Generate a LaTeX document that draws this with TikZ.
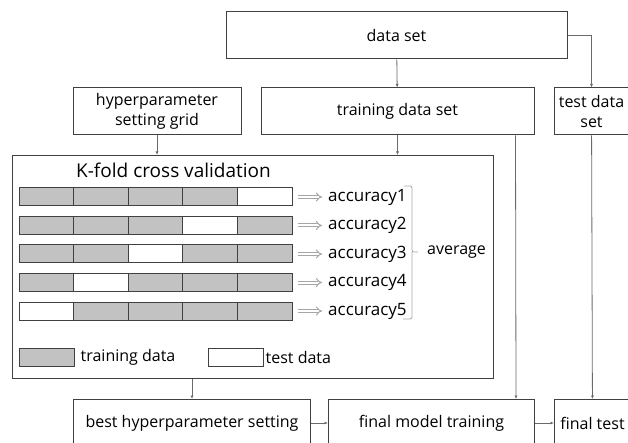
\documentclass[tikz,border=0pt]{standalone}
\usepackage{fontspec}
\setmainfont{Open Sans}
\usetikzlibrary{positioning, arrows.meta, calc}

\definecolor{boxline}{HTML}{404040}
\definecolor{wireline}{HTML}{6A6A6A}
\definecolor{foldgray}{HTML}{C2C2C2}
\definecolor{implgray}{HTML}{A6A6A6}

\begin{document}
\begin{tikzpicture}[x=1pt, y=-1pt,
  font=\fontsize{16}{20}\selectfont, >={Latex[length=3.5pt, width=3pt]},
  box/.style={draw=boxline, line width=1pt, inner sep=0pt, align=center, minimum height=47pt},
  wire/.style={draw=wireline, line width=0.8pt, ->},
  fold/.style={draw=boxline, line width=1pt, fill=foldgray, minimum width=54.6pt, minimum height=18pt, inner sep=0pt},
  tfold/.style={fold, fill=white},
  lbl/.style={inner sep=2pt},
  imp/.style={draw=implgray, double, double distance=2pt, line width=1pt, -{Implies}}]
\useasboundingbox (0,0) rectangle (628,443);

% data split
\node[box, minimum width=341pt] (data) at (396.5,35.5) {data set};
\node[box, minimum width=168pt] (hyper) at (157,111.5) {hyperparameter\\setting grid};
\node[box, minimum width=273pt, right=19pt of hyper] (train) {training data set};
\node[box, minimum width=75pt, right=19pt of train] (testset) {test data\\set};

% cross validation panel
\node[box, minimum width=481pt, minimum height=223pt, anchor=north west] (kfold) at (12,155) {};
\node[lbl, anchor=west, font=\fontsize{19}{22}\selectfont] (cvtitle) at (74,170) {K-fold cross validation};
\foreach \r in {1,...,5}{
  \pgfmathtruncatemacro\tk{6-\r}
  \foreach \k in {1,...,5}{
    \ifnum\k=\tk \def\sty{tfold}\else\def\sty{fold}\fi
    \node[\sty] (c\r\k) at ({19+54.6*(\k-0.5)}, {197+28.5*(\r-1)}) {};
  }
  \node[lbl, anchor=west, font=\fontsize{17}{20}\selectfont] (acc\r) at (326, {197+28.5*(\r-1)}) {accuracy\r};
  \draw[imp, shorten <=5pt, shorten >=4pt] (c\r5) -- (acc\r);
}
\draw[implgray, line width=0.8pt, rounded corners=2pt]
  (404,186) -- (412,186) -- (412,252) -- (418,252) (412,252) -- (412,319) -- (403,319);
\node[lbl, anchor=west] (avg) at (425,252) {average};

% legend
\node[fold, minimum width=55pt] (legtr) at (46.5,357) {};
\node[lbl, right=4pt of legtr] (legtrtxt) {training data};
\node[tfold, minimum width=55pt] (legte) at (235.5,357) {};
\node[lbl, right=0pt of legte] (legtetxt) {test data};

% final stage
\node[box, minimum width=237pt, anchor=north west] (best) at (73,399) {best hyperparameter setting};
\node[box, minimum width=206pt, right=17pt of best] (final) {final model training};
\node[box, minimum width=76pt, right=19pt of final] (ftest) {final test};

\draw[wire] (data) -- (train);
\draw[wire] (data.east) -| (testset.north);
\draw[wire] (hyper) -- (hyper |- kfold.north);
\draw[wire] (train) -- (train |- kfold.north);
\draw[wire] ($(train.south east)+(-19,0)$) -- ($(final.north east)+(-19,0)$);
\draw[wire] (testset) -- (ftest);
\draw[wire] (best |- kfold.south) -- (best);
\draw[wire] (best) -- (final);
\draw[wire] (final) -- (ftest);
\end{tikzpicture}
\end{document}
